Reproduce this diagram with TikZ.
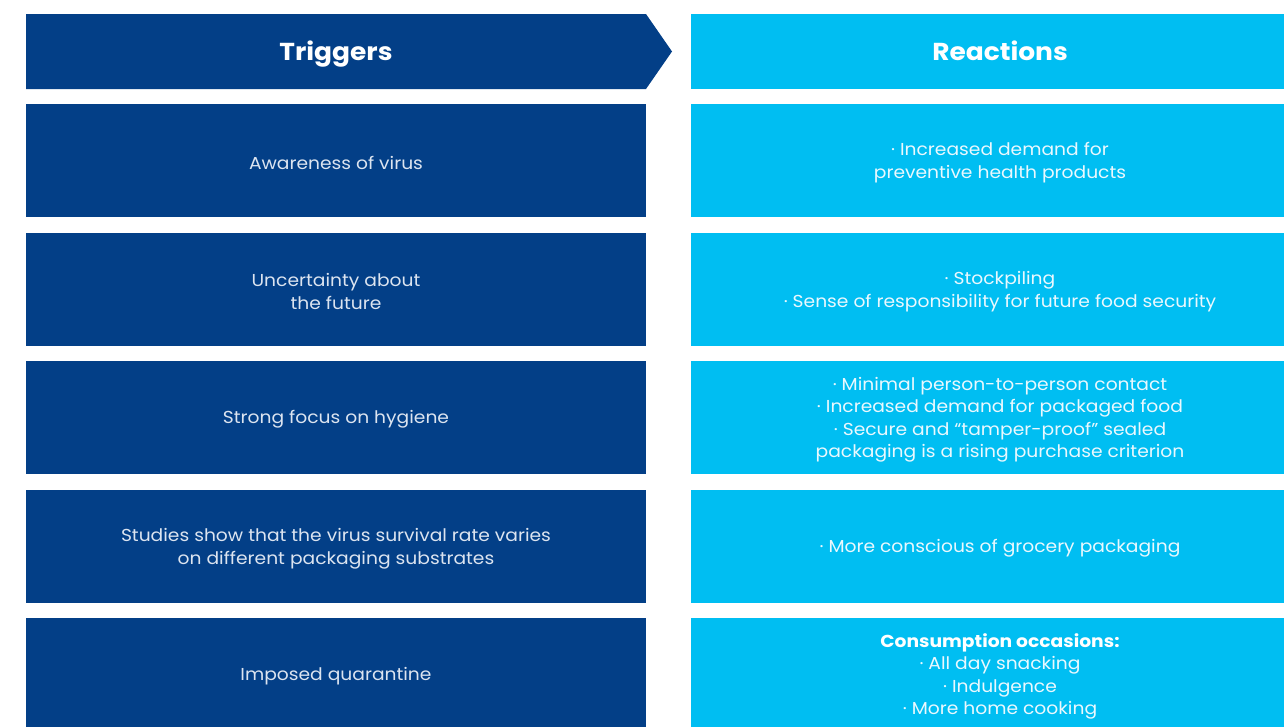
\documentclass[tikz,border=0pt]{standalone}
\usepackage{fontspec}
\setmainfont{Poppins}[FakeStretch=1.08]
\definecolor{dblue}{HTML}{033F87}
\definecolor{lblue}{HTML}{00BEF2}
\definecolor{ltext}{HTML}{DCE4F0}
\definecolor{rtext}{HTML}{EAF8FE}
\begin{document}
\begin{tikzpicture}[x=1pt,y=-1pt,
  trig/.style={fill=dblue,draw=none,text=ltext,align=center,font=\fontsize{17.3}{22.5}\selectfont},
  reac/.style={fill=lblue,draw=none,text=rtext,align=center,font=\fontsize{17.3}{22.5}\selectfont},
  head/.style={text=white,anchor=base,font=\fontsize{24.5}{26}\selectfont\bfseries}]
\useasboundingbox (0,0) rectangle (1284,726);
% headers
\fill[dblue] (26,14) -- (646,14) -- (672,51.5) -- (646,89) -- (26,89) -- cycle;
\node[head] (th) at (336,60.5) {Triggers};
\fill[lblue] (691,14) rectangle (1284,89);
\node[head] (rh) at (1000,60.5) {Reactions};
% rows
\foreach \y/\n in {104/1,233/2,361/3,490/4,618/5}{
  \fill[dblue] (26,\y) rectangle (646,\y+113);
  \fill[lblue] (691,\y) rectangle (1284,\y+113);
}
\node[trig] (t1) at (336,162.5) {Awareness of virus};
\node[trig] (t2) at (336,291.5) {Uncertainty about\\the future};
\node[trig] (t3) at (336,419.5) {Strong focus on hygiene};
\node[trig] (t4) at (336,548.5) {Studies show that the virus survival rate varies\\on different packaging substrates};
\node[trig] (t5) at (336,676.5) {Imposed quarantine};
\node[reac] (r1) at (1000,162.5) {· Increased demand for\\preventive health products};
\node[reac] (r2) at (1000,291.5) {· Stockpiling\\· Sense of responsibility for future food security};
\node[reac] (r3) at (1000,419.5) {· Minimal person-to-person contact\\· Increased demand for packaged food\\· Secure and “tamper-proof” sealed\\packaging is a rising purchase criterion};
\node[reac] (r4) at (1000,548.5) {· More conscious of grocery packaging};
\node[reac] (r5) at (1000,676.5) {{\bfseries\color{white}Consumption occasions:}\\· All day snacking\\· Indulgence\\· More home cooking};
\end{tikzpicture}
\end{document}
